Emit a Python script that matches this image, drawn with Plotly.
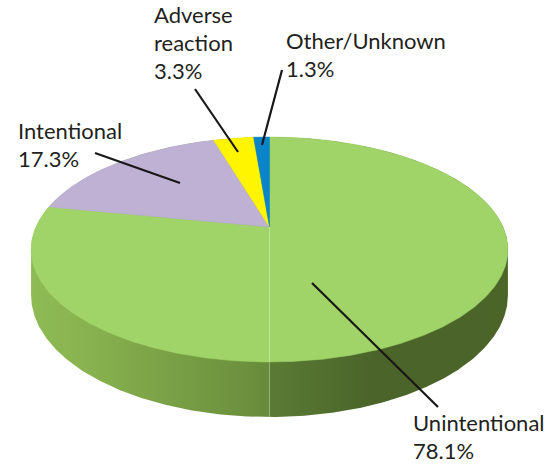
import numpy as np
import plotly.graph_objects as go

# ---- data ----
categories = ["Unintentional", "Intentional", "Adverse reaction", "Other/Unknown"]
values = [78.1, 17.3, 3.3, 1.3]
label_lines = [["Unintentional"], ["Intentional"], ["Adverse", "reaction"], ["Other/Unknown"]]
slice_colors = ["#A0D468", "#BEB1D3", "#FFF500", "#0A85C9"]

# ---- layout / geometry constants (pixel space) ----
W, H = 553, 465
CX, CY = 269.5, 227.0      # apex of pie (projected centre)
DIST = 5.0                 # perspective distance
SX, SY = 1168.0, 540.0     # horizontal / vertical scale
DEPTH = 220.0              # side thickness term

# label placement: (text left x, first baseline y) and leader line (x0,y0,x1,y1)
label_pos = {
    "Unintentional": (412, 432, (312, 283, 438, 407)),
    "Intentional": (17, 140, (95, 153, 180, 183)),
    "Adverse reaction": (153, 24, (195, 89, 238, 152)),
    "Other/Unknown": (285, 50, (282, 70, 262, 145)),
}
FONT = dict(family="Lato, 'Open Sans', sans-serif", size=22, color="#231F20")
LINE_H = 28


def proj(theta_deg, r=1.0, bottom=False):
    t = np.radians(theta_deg)
    u = r * np.sin(t)
    v = -r * np.cos(t)
    den = DIST - v
    x = CX + SX * u / den
    y = CY + (SY * v + (DEPTH if bottom else 0.0)) / den
    return x, y


fig = go.Figure()

# ---- side (front wall) ----
ang = np.linspace(0, 360, 3601)
xs_all, _ = proj(ang)
a_right = ang[np.argmax(xs_all)]
a_left = ang[np.argmin(xs_all)]
back = np.concatenate([np.linspace(a_left, 360, 200), np.linspace(0, a_right, 200)])
front = np.linspace(a_right, a_left, 400)
bx, by = proj(back)
fx, fy = proj(front, bottom=True)
side_x = np.concatenate([bx, fx, bx[:1]])
side_y = np.concatenate([by, fy, by[:1]])
xmin, xmax = side_x.min(), side_x.max()
mid = (CX - xmin) / (xmax - xmin)
fig.add_trace(go.Scatter(
    x=side_x, y=side_y, mode="lines", line=dict(width=0), fill="toself",
    fillcolor="#6A8E3D",
    fillgradient=dict(
        type="horizontal", start=xmin, stop=xmax,
        colorscale=[[0, "#8EBB54"], [0.12, "#88B24F"], [mid - 0.001, "#688B3B"],
                    [mid + 0.001, "#5B7B35"], [mid + 0.22, "#4A6429"], [1, "#4B6529"]],
    ),
    hoverinfo="skip", showlegend=False,
))

# ---- top face slices ----
total = sum(values)
cum = 0.0
for name, val, col in zip(categories, values, slice_colors):
    a0 = 360 * cum / total
    a1 = 360 * (cum + val) / total
    cum += val
    arc = np.linspace(a0, a1, max(4, int((a1 - a0) * 2)))
    ax_, ay_ = proj(arc)
    px = np.concatenate([[CX], ax_, [CX]])
    py = np.concatenate([[CY], ay_, [CY]])
    fig.add_trace(go.Scatter(
        x=px, y=py, mode="lines", line=dict(width=0.5, color=col), fill="toself",
        fillcolor=col, hoverinfo="skip", showlegend=False, name=name,
    ))

# faint seam line (Excel rendering artefact)
sx1, sy1 = proj(180)
sx2, sy2 = proj(180, bottom=True)
fig.add_trace(go.Scatter(
    x=[CX, sx1, sx2], y=[CY, sy1, sy2], mode="lines",
    line=dict(width=1, color="rgba(255,255,255,0.35)"),
    hoverinfo="skip", showlegend=False,
))

# ---- labels & leader lines ----
annotations = []
for name, val, lines in zip(categories, values, label_lines):
    tx, ty, (lx0, ly0, lx1, ly1) = label_pos[name]
    fig.add_trace(go.Scatter(
        x=[lx0, lx1], y=[ly0, ly1], mode="lines",
        line=dict(width=2.2, color="#1A1718"),
        hoverinfo="skip", showlegend=False,
    ))
    all_lines = lines + [f"{val:.1f}%"]
    for i, ln in enumerate(all_lines):
        annotations.append(dict(
            x=tx, y=ty + i * LINE_H, xref="x", yref="y", text=ln,
            showarrow=False, xanchor="left", yanchor="bottom", yshift=-5,
            font=FONT, borderpad=0,
        ))

fig.update_layout(
    width=W, height=H,
    margin=dict(l=0, r=0, t=0, b=0),
    paper_bgcolor="white", plot_bgcolor="white",
    xaxis=dict(range=[0, W], visible=False, fixedrange=True),
    yaxis=dict(range=[H, 0], visible=False, fixedrange=True),
    annotations=annotations,
    hovermode=False,
)

fig.write_html(
    "out.html",
    config={"displayModeBar": False, "staticPlot": True},
    post_script="document.body.style.margin='0';document.body.style.overflow='hidden';",
)
